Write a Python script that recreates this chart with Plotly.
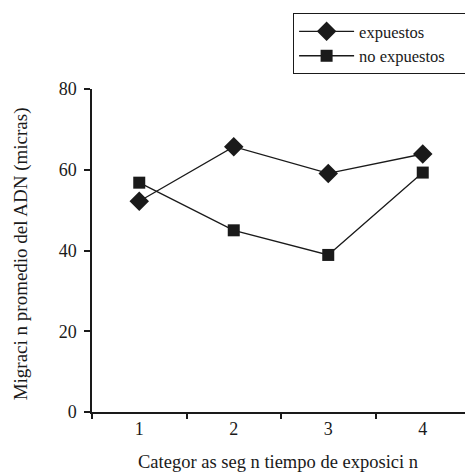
import plotly.graph_objects as go

categories = ["1", "2", "3", "4"]
series_names = ["expuestos", "no expuestos"]
expuestos = [52.2, 65.7, 59.1, 63.9]
no_expuestos = [56.8, 45.0, 38.9, 59.3]
y_ticks = [0, 20, 40, 60, 80]
x_title = "Categor as seg n tiempo de exposici n"
y_title = "Migraci n promedio del ADN (micras)"

FONT = "Liberation Serif"
INK = "#1a1a1a"
PAD = "\u00a0" * 7  # widens the legend box toward the right edge

fig = go.Figure()
fig.add_trace(go.Scatter(
    x=categories, y=expuestos, name=series_names[0], mode="lines+markers",
    line=dict(color=INK, width=1.3),
    marker=dict(symbol="diamond", size=15, color=INK),
))
fig.add_trace(go.Scatter(
    x=categories, y=no_expuestos, name=series_names[1] + PAD, mode="lines+markers",
    line=dict(color=INK, width=1.3),
    marker=dict(symbol="square", size=12, color=INK),
))

# page body has an 8px margin, so the figure is 8px smaller on each axis
fig.update_layout(
    width=465, height=467,
    margin=dict(l=84, r=3, t=81, b=63, autoexpand=False),
    paper_bgcolor="white", plot_bgcolor="white",
    font=dict(family=FONT, size=18, color=INK),
    showlegend=True,
    legend=dict(
        x=0.532, y=1.235, xanchor="left", yanchor="top",
        bordercolor=INK, borderwidth=1,
        font=dict(family=FONT, size=16.5),
        tracegroupgap=0, itemwidth=55,
    ),
    xaxis=dict(
        type="category", tickson="boundaries", range=[-0.5, 3.5],
        showline=True, linecolor=INK, linewidth=1.5,
        ticks="outside", ticklen=5, tickcolor=INK, tickwidth=1.5,
        showgrid=False, zeroline=False, automargin=False,
        tickfont=dict(size=18),
    ),
    yaxis=dict(
        range=[0, 80], tickvals=y_ticks,
        showline=True, linecolor=INK, linewidth=1.5,
        ticks="outside", ticklen=6, tickcolor=INK, tickwidth=1.5,
        showgrid=False, zeroline=False, automargin=False,
        tickfont=dict(size=18), ticklabelstandoff=4,
    ),
    annotations=[
        dict(text=x_title, xref="paper", yref="paper", x=0.492, y=-0.155,
             xanchor="center", yanchor="middle", showarrow=False,
             font=dict(size=18.5)),
        dict(text=y_title, xref="paper", yref="paper", x=-0.188, y=0.491,
             xanchor="center", yanchor="middle", showarrow=False, textangle=-90,
             font=dict(size=19)),
    ],
)

fig.write_html("out.html")
